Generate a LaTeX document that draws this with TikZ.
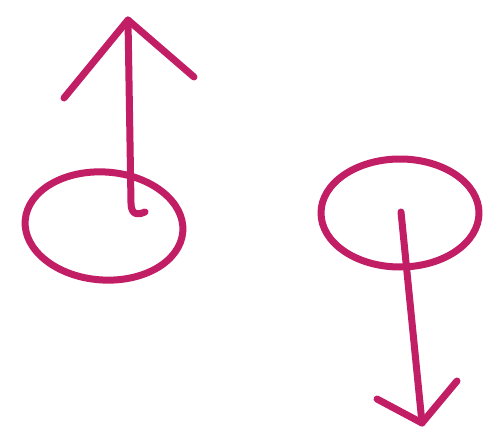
\documentclass[tikz,border=0pt]{standalone}
\usepackage{xcolor}
\usetikzlibrary{shapes.geometric}
\definecolor{penpink}{RGB}{194,30,102}
\tikzset{
  ink/.style={draw=penpink, line width=7pt, line cap=round, line join=round},
  loop/.style={ink, ellipse, minimum width=158pt, minimum height=108pt, inner sep=0pt}
}

\begin{document}
\begin{tikzpicture}[x=1pt, y=-1pt]
\useasboundingbox[fill=white] (0,0) rectangle (490,441);
\node[loop, rotate=-4] (spinup) at (104,226) {};
\node[loop] (spindown) at (400,213) {};
\coordinate (upbase) at (131,203);
\coordinate (uphook) at (145,212);
\coordinate (uptip) at (128,20);
\coordinate (upleft) at (64,98);
\coordinate (upright) at (194,77);
\coordinate (downbase) at (401,212);
\coordinate (downtip) at (422,423);
\coordinate (downleft) at (377,399);
\coordinate (downright) at (457,381);
\draw[ink] (uphook) .. controls (139,215) and (131,216) .. (upbase) -- (uptip);
\draw[ink] (upleft) -- (uptip) -- (upright);
\draw[ink] (downbase) -- (downtip);
\draw[ink] (downleft) -- (downtip) -- (downright);
\end{tikzpicture}
\end{document}
